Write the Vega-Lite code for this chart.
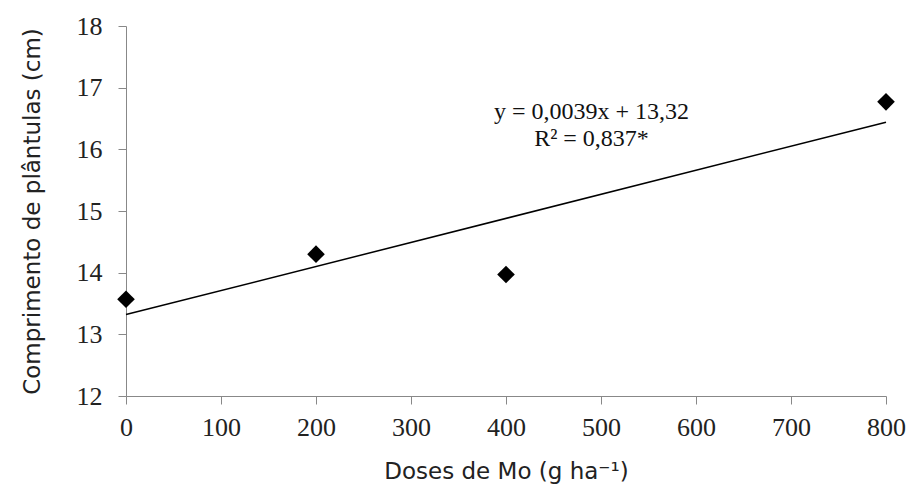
{
  "$schema": "https://vega.github.io/schema/vega-lite/v6.json",
  "width": 760,
  "height": 370,
  "autosize": {"type": "none"},
  "padding": {"left": 126, "top": 26, "right": 23, "bottom": 91},
  "background": "white",
  "config": {"view": {"stroke": null}},
  "datasets": {
    "pts": [
      {"dose": 0, "comp": 13.57},
      {"dose": 200, "comp": 14.3},
      {"dose": 400, "comp": 13.97},
      {"dose": 800, "comp": 16.77}
    ],
    "trend": [
      {"dose": 0, "comp": 13.32},
      {"dose": 800, "comp": 16.44}
    ],
    "notes": [
      {"dose": 490, "comp": 16.6, "label": "y = 0,0039x + 13,32"},
      {"dose": 490, "comp": 16.17, "label": "R² = 0,837*"}
    ]
  },
  "layer": [
    {
      "data": {"name": "trend"},
      "mark": {"type": "line", "color": "#000000", "strokeWidth": 1.5},
      "encoding": {
        "x": {
          "field": "dose", "type": "quantitative",
          "scale": {"domain": [0, 800], "nice": false},
          "axis": {
            "values": [0, 100, 200, 300, 400, 500, 600, 700, 800],
            "format": "d",
            "title": "Doses de Mo (g ha⁻¹)",
            "titleFont": "DejaVu Sans", "titleFontSize": 23, "titleFontWeight": "normal", "titleColor": "#222222",
            "titlePadding": 20,
            "labelFont": "Liberation Serif", "labelFontSize": 26, "labelColor": "#222222",
            "labelPadding": 10, "tickSize": 8, "tickColor": "#888888", "domainColor": "#888888",
            "grid": false, "labelFlush": false
          }
        },
        "y": {
          "field": "comp", "type": "quantitative",
          "scale": {"domain": [12, 18], "nice": false, "zero": false},
          "axis": {
            "values": [12, 13, 14, 15, 16, 17, 18],
            "format": "d",
            "title": "Comprimento de plântulas (cm)",
            "titleFont": "DejaVu Sans", "titleFontSize": 23, "titleFontWeight": "normal", "titleColor": "#222222",
            "titlePadding": 32,
            "labelFont": "Liberation Serif", "labelFontSize": 26, "labelColor": "#222222",
            "labelPadding": 16, "tickSize": 8, "tickColor": "#888888", "domainColor": "#888888",
            "grid": false, "labelFlush": false
          }
        }
      }
    },
    {
      "data": {"name": "pts"},
      "mark": {"type": "point", "shape": "diamond", "filled": true, "color": "#000000", "size": 310, "opacity": 1},
      "encoding": {
        "x": {"field": "dose", "type": "quantitative"},
        "y": {"field": "comp", "type": "quantitative"}
      }
    },
    {
      "data": {"name": "notes"},
      "mark": {"type": "text", "font": "Liberation Serif", "fontSize": 24, "color": "#111111", "align": "center", "baseline": "middle"},
      "encoding": {
        "x": {"field": "dose", "type": "quantitative"},
        "y": {"field": "comp", "type": "quantitative"},
        "text": {"field": "label"}
      }
    }
  ]
}
